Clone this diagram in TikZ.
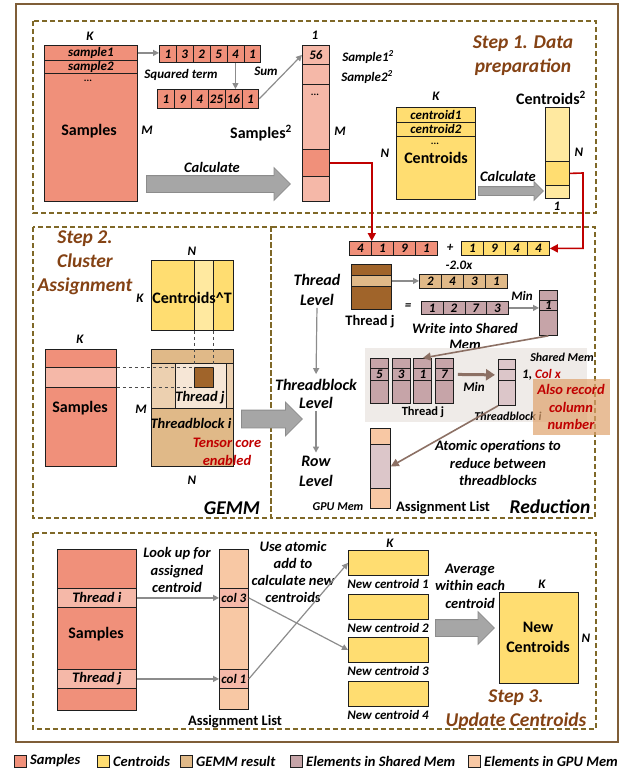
\documentclass[tikz,border=0pt]{standalone}
\usepackage{fontspec}
\setmainfont{Carlito}
\usetikzlibrary{arrows.meta, shapes.arrows, positioning}

\definecolor{smp}{RGB}{240,144,122}
\definecolor{smplt}{RGB}{245,184,168}
\definecolor{cen}{RGB}{255,221,113}
\definecolor{cenlt}{RGB}{255,233,160}
\definecolor{gem}{RGB}{224,185,136}
\definecolor{gemlt}{RGB}{236,208,176}
\definecolor{gemxl}{RGB}{246,230,214}
\definecolor{dkbr}{RGB}{160,100,42}
\definecolor{shm}{RGB}{198,164,168}
\definecolor{shmlt}{RGB}{220,198,201}
\definecolor{gpu}{RGB}{248,200,164}
\definecolor{dashcol}{RGB}{127,104,40}
\definecolor{framecol}{RGB}{127,94,56}
\definecolor{ttlcol}{RGB}{132,66,20}
\definecolor{arrgray}{RGB}{140,140,140}
\definecolor{arrfill}{RGB}{166,166,166}
\definecolor{brarr}{RGB}{140,112,100}
\definecolor{redln}{RGB}{192,0,0}
\definecolor{panel}{RGB}{239,235,232}
\definecolor{note}{RGB}{222,162,108}
\definecolor{edge}{RGB}{30,30,30}

\begin{document}
\begin{tikzpicture}[x=1pt, y=-1pt,
    bx/.style={draw=edge, line width=0.8pt, inner sep=0pt, anchor=north west},
    lbl/.style={font=\bfseries\itshape\fontsize{13}{15}\selectfont, inner sep=0pt},
    dotlbl/.style={font=\bfseries\fontsize{10}{10}\selectfont, inner sep=0pt},
    mlbl/.style={font=\bfseries\itshape\fontsize{14.5}{17.5}\selectfont, inner sep=0pt, align=center},
    blbl/.style={font=\bfseries\fontsize{16}{20}\selectfont, inner sep=0pt, align=center},
    ulbl/.style={font=\bfseries\fontsize{14.5}{17}\selectfont, inner sep=0pt},
    ttl/.style={font=\bfseries\itshape\fontsize{19.5}{24}\selectfont, text=ttlcol, inner sep=0pt, align=center},
    stepbox/.style={draw=dashcol, line width=1.3pt, dash pattern=on 5pt off 3pt},
    garrow/.style={draw=arrgray, line width=1.2pt, -{Triangle[length=6pt, width=6pt]}},
    brarrow/.style={draw=brarr, line width=1.6pt, -{Triangle[length=8pt, width=8pt]}},
    redarrow/.style={draw=redln, line width=1.6pt, -{Triangle[length=8pt, width=8pt]}},
    guide/.style={draw=edge!80, line width=0.7pt, dashed},
    fatarrow/.style={single arrow, draw=arrgray, fill=arrfill, line width=0.8pt, inner xsep=0pt, anchor=tail}]

    \useasboundingbox (0,0) rectangle (633,769);

    % Draw the outer frame and the step boxes
    \draw[framecol, line width=1.6pt] (16,4) rectangle (618,742);
    \draw[stepbox] (33,21) rectangle (596,213);
    \draw[stepbox] (33,227) rectangle (271,518);
    \draw[stepbox] (271,227) rectangle (595,518);
    \draw[stepbox] (33,533) rectangle (596,729);

    % Step 1: samples and squared terms
    \node[lbl] (kA) at (90,36) {K};
    \node[bx, fill=smp, minimum width=93pt, minimum height=156pt] (smpA) at (44,45) {};
    \node[bx, lbl, fill=smp, minimum width=93pt, minimum height=15pt] (s1) at (44,45) {sample1};
    \node[bx, lbl, fill=smp, minimum width=93pt, minimum height=13pt] (s2) at (44,60) {sample2};
    \node[dotlbl] (dotsA) at (88,81) {...};
    \node[blbl] (smpAt) at (89,131) {Samples};
    \node[lbl] (mA) at (147,130) {M};
    \foreach \v [count=\i] in {1,3,2,5,4,1}
        \node[bx, lbl, fill=smp, minimum width=16.9pt, minimum height=17pt] (sqa\i) at ({159+(\i-1)*16.9},45) {\v};
    \foreach \v [count=\i] in {1,9,4,25,16,1}
        \node[bx, lbl, fill=smp, minimum width=16.9pt, minimum height=19pt] (sqb\i) at ({157+(\i-1)*16.9},89) {\v};
    \node[lbl] (sqt) at (181,75) {Squared term};
    \node[lbl] (sumt) at (266,71) {Sum};

    % Samples^2 column
    \node[lbl] (oneA) at (315,35) {1};
    \node[bx, lbl, fill=smplt, minimum width=27pt, minimum height=19pt] (sq1) at (302,45) {56};
    \node[bx, fill=smplt, minimum width=27pt, minimum height=20pt] (sq2) at (302,64) {};
    \node[bx, fill=smplt, minimum width=27pt, minimum height=65pt] (sq3) at (302,84) {};
    \node[bx, fill=smp, minimum width=27pt, minimum height=27pt] (sq4) at (302,149) {};
    \node[bx, fill=smplt, minimum width=27pt, minimum height=25pt] (sq5) at (302,176) {};
    \node[dotlbl] (dotsB) at (315,95) {...};
    \node[blbl] (sqlbl) at (261,133) {Samples\textsuperscript{2}};
    \node[lbl] (s1sq) at (368,57) {Sample1\textsuperscript{2}};
    \node[lbl] (s2sq) at (367,77) {Sample2\textsuperscript{2}};
    \node[lbl] (mB) at (340,131) {M};

    \draw[garrow] (s1.east) -- (s1.east -| sqa1.west);
    \draw[garrow] (sqa5.south) -- (sqa5.south |- sqb5.north);
    \draw[garrow] (sqb6.east) -- (sq1.west);

    \node[fatarrow, minimum height=144pt, inner ysep=8pt, single arrow head extend=8pt] (calcA) at (146,184) {};
    \node[mlbl] (calcAt) at (212,167) {Calculate};

    % Step 1: centroids
    \node[lbl] (kB) at (436,96) {K};
    \node[bx, fill=cen, minimum width=79pt, minimum height=92pt] (cenA) at (396,107) {};
    \node[bx, lbl, fill=cen, minimum width=79pt, minimum height=15pt] (c1) at (396,107) {centroid1};
    \node[bx, lbl, fill=cen, minimum width=79pt, minimum height=14pt] (c2) at (396,122) {centroid2};
    \node[dotlbl] (dotsC) at (435,144) {...};
    \node[blbl] (cenAt) at (436,158) {Centroids};
    \node[lbl] (nA) at (385,153) {N};
    \node[fatarrow, minimum height=65pt, inner ysep=4pt, single arrow head extend=5pt] (calcB) at (478,191) {};
    \node[mlbl] (calcBt) at (508,176) {Calculate};
    \node[blbl] (cqlbl) at (551,98) {Centroids\textsuperscript{2}};
    \node[bx, fill=cenlt, minimum width=24pt, minimum height=54pt] (cq1) at (545,107) {};
    \node[bx, fill=cen, minimum width=24pt, minimum height=24pt] (cq2) at (545,161) {};
    \node[bx, fill=cenlt, minimum width=24pt, minimum height=13pt] (cq3) at (545,185) {};
    \node[lbl] (nB) at (579,152) {N};
    \node[lbl] (oneB) at (557,206) {1};
    \node[ttl] (st1) at (523,56) {Step 1. Data\\preparation};

    % Step 2: GEMM
    \node[ttl] (st2) at (85,263) {Step 2.\\Cluster\\Assignment};
    \node[lbl] (nC) at (192,251) {N};
    \node[lbl] (kC) at (140,298) {K};
    \node[bx, fill=cen, minimum width=82pt, minimum height=70pt] (cenT) at (151,260) {};
    \node[bx, fill=cenlt, minimum width=19pt, minimum height=70pt] (cenTs) at (194,260) {};
    \node[blbl] (cenTt) at (192,298) {Centroids\textasciicircum T};
    \node[lbl] (kD) at (80,339) {K};
    \node[bx, fill=smp, minimum width=71pt, minimum height=117pt] (smpB) at (45,349) {};
    \node[bx, fill=smplt, minimum width=71pt, minimum height=20pt] (smpBs) at (45,367) {};
    \node[blbl] (smpBt) at (80,408) {Samples};
    \node[bx, fill=gem, minimum width=82pt, minimum height=117pt] (gemR) at (151,349) {};
    \node[bx, fill=gemlt, minimum width=82pt, minimum height=45pt] (tbRow) at (151,363) {};
    \node[bx, fill=gemxl, minimum width=51pt, minimum height=45pt] (thj) at (175,363) {};
    \node[bx, fill=dkbr, minimum width=19pt, minimum height=20pt] (thjd) at (194,367) {};
    \draw[guide] (smpBs.north east) -- (thjd.north west);
    \draw[guide] (smpBs.south east) -- (thjd.south west);
    \draw[guide] (cenTs.south west) -- (thjd.north west);
    \draw[guide] (cenTs.south east) -- (thjd.north east);
    \node[mlbl] (thjt) at (200,398) {Thread j};
    \node[lbl] (mC) at (141,409) {M};
    \node[mlbl] (tbit) at (191,423) {Threadblock i};
    \node[mlbl, text=redln] (tct) at (227,452) {Tensor core\\enabled};
    \node[lbl] (nD) at (192,480) {N};
    \node[ttl, text=black] (gemt) at (232,508) {GEMM};
    \node[fatarrow, minimum height=61pt, inner ysep=8.5pt, single arrow head extend=8pt] (gemarr) at (241,419) {};

    % Step 2: reduction, thread level
    \foreach \v [count=\i] in {4,1,9,1}
        \node[bx, lbl, fill=smp, minimum width=22pt, minimum height=14pt] (rv\i) at ({349+(\i-1)*22},241) {\v};
    \node[lbl] (plus) at (450,248) {+};
    \foreach \v [count=\i] in {1,9,4,4}
        \node[bx, lbl, fill=cen, minimum width=22pt, minimum height=14pt] (yv\i) at ({461+(\i-1)*22},241) {\v};
    \node[lbl] (mtwo) at (459,265) {-2.0x};
    \node[bx, fill=dkbr, minimum width=40pt, minimum height=45pt] (tjblk) at (351,264) {};
    \node[bx, fill=gem, minimum width=40pt, minimum height=11pt] (tjs) at (351,275) {};
    \node[ulbl] (tjt) at (370,322) {Thread j};
    \foreach \v [count=\i] in {2,4,3,1}
        \node[bx, lbl, fill=gem, minimum width=22pt, minimum height=14pt] (tv\i) at ({419+(\i-1)*22},274) {\v};
    \node[lbl] (eq) at (408,307) {=};
    \foreach \v [count=\i] in {1,2,7,3}
        \node[bx, lbl, fill=shm, minimum width=21.75pt, minimum height=13pt] (mv\i) at ({421+(\i-1)*21.75},301) {\v};
    \node[lbl] (mint) at (522,296) {Min};
    \node[bx, fill=shm, minimum width=18pt, minimum height=45pt] (smc) at (539,290) {};
    \node[bx, lbl, fill=shm, minimum width=18pt, minimum height=10pt] (smc1) at (539,300) {1};
    \node[mlbl, font=\bfseries\itshape\fontsize{14.5}{16}\selectfont] (wsm) at (465,336) {Write into Shared\\Mem};
    \draw[garrow] (tjs.east) -- (tjs.east -| tv1.west);
    \draw[garrow] (mv4.east) -- (mv4.east -| smc.west);

    % Step 2: reduction, threadblock level
    \node[bx, draw=none, fill=panel, minimum width=222pt, minimum height=74pt] (pnl) at (365,348) {};
    \foreach \v [count=\i] in {5,3,1,7} {
        \node[bx, fill=shm, minimum width=18pt, minimum height=45pt] (tc\i) at ({370+(\i-1)*21.7},358) {};
        \node[bx, lbl, fill=shm, minimum width=18pt, minimum height=12pt] (tn\i) at ({370+(\i-1)*21.7},368) {\v};
    }
    \node[ulbl, font=\bfseries\fontsize{12.5}{14}\selectfont] (tjt2) at (423,412) {Thread j};
    \node[bx, fill=shmlt, minimum width=17pt, minimum height=46pt] (tbc) at (498,359) {};
    \node[bx, fill=shmlt, minimum width=17pt, minimum height=11pt] (tbc2) at (498,369) {};
    \draw[draw=brarr, line width=3pt, -{Triangle[length=9pt, width=11pt]}, shorten <=4pt, shorten >=3pt] (tn4.east) -- (tbc2.west);
    \node[lbl] (min2) at (474,387) {Min};
    \node[lbl, anchor=west] (colx) at (522,375) {1, \textcolor{redln}{Col x}};
    \node[lbl, font=\bfseries\itshape\fontsize{12}{14}\selectfont] (shmt) at (562,357) {Shared Mem};
    \node[lbl, font=\bfseries\itshape\fontsize{12}{14}\selectfont] (tbit2) at (508,416) {Threadblock i};
    \node[bx, draw=none, fill=note, fill opacity=0.7, minimum width=77pt, minimum height=56pt] (notebx) at (533,379) {};
    \node[mlbl, text=redln] (notet) at (571,407) {Also record\\column\\number};
    \draw[brarrow] (smc.south) -- (tc3.north);

    % Step 2: reduction, row level
    \node[mlbl, font=\bfseries\itshape\fontsize{16}{20}\selectfont] (tlev) at (317,290) {Thread\\Level};
    \node[mlbl, font=\bfseries\itshape\fontsize{16}{18}\selectfont] (tblev) at (316,394) {Threadblock\\Level};
    \node[mlbl, font=\bfseries\itshape\fontsize{16}{20}\selectfont] (rlev) at (316,471) {Row\\Level};
    \draw[garrow, shorten <=2pt, shorten >=5pt] (tlev.south) -- (tblev.north);
    \draw[garrow, shorten <=2pt, shorten >=3pt] (tblev.south) -- (rlev.north);
    \node[bx, fill=gpu, minimum width=20pt, minimum height=80pt] (al) at (370,428) {};
    \node[bx, fill=shmlt, minimum width=20pt, minimum height=44pt] (al2) at (370,444) {};
    \node[lbl, font=\bfseries\itshape\fontsize{12}{14}\selectfont] (gput) at (338,507) {GPU Mem};
    \node[ulbl] (alt) at (443,508) {Assignment List};
    \node[mlbl] (atomt) at (498,463) {Atomic operations to\\reduce between\\threadblocks};
    \node[ttl, text=black] (redt) at (550,507) {Reduction};
    \draw[brarrow] (tbc.south west) -- (al2.east);

    % Red links from step 1
    \coordinate (rturn) at (583,173);
    \draw[redarrow] (sq4.east) -| (rv1.north east);
    \draw[redarrow] (cq2.east) -- (rturn) |- (yv4.east);

    % Step 3: update centroids
    \node[bx, fill=smp, minimum width=79pt, minimum height=161pt] (smpC) at (57,549) {};
    \node[bx, mlbl, fill=smplt, minimum width=79pt, minimum height=19pt] (thi) at (57,588) {Thread i};
    \node[bx, mlbl, fill=smplt, minimum width=79pt, minimum height=19pt] (thjC) at (57,669) {Thread j};
    \node[blbl] (smpCt) at (96,634) {Samples};
    \node[bx, fill=gpu, minimum width=29pt, minimum height=160pt] (alC) at (219,549) {};
    \node[bx, lbl, fill=smplt, minimum width=29pt, minimum height=19pt] (col3) at (219,588) {col 3};
    \node[bx, lbl, fill=smplt, minimum width=29pt, minimum height=19pt] (col1) at (219,669) {col 1};
    \draw[garrow] (thi.east) -- (col3.west);
    \draw[garrow] (thjC.east) -- (col1.west);
    \node[mlbl] (lookt) at (177,570) {Look up for\\assigned\\centroid};
    \node[mlbl, font=\bfseries\itshape\fontsize{14.5}{17.3}\selectfont] (uset) at (293,572) {Use atomic\\add to\\calculate new\\centroids};
    \node[ulbl] (altC) at (235,722) {Assignment List};
    \node[lbl] (kE) at (390,543) {K};
    \foreach \y [count=\i] in {550,594,637,681} {
        \node[bx, fill=cen, minimum width=80pt, minimum height=25pt] (nc\i) at (348,\y) {};
        \node[lbl] (nct\i) at (388,\y+34) {New centroid \i};
    }
    \draw[garrow] (col3.east) -- (nc3.west);
    \draw[garrow] (col1.east) -- (nc1.west);
    \node[mlbl] (avgt) at (470,586) {Average\\within each\\centroid};
    \node[fatarrow, minimum height=59pt, inner ysep=8pt, single arrow head extend=8pt] (avgarr) at (435,628) {};
    \node[lbl] (kF) at (542,584) {K};
    \node[bx, fill=cen, minimum width=79pt, minimum height=91pt] (ncen) at (499,592) {};
    \node[blbl] (ncent) at (538,637) {New\\Centroids};
    \node[lbl] (nE) at (586,638) {N};
    \node[ttl] (st3) at (516,710) {Step 3.\\Update Centroids};

    % Legend
    \foreach \c/\t/\x in {smp/Samples/14, cen/Centroids/97, gem/GEMM result/180, shm/Elements in Shared Mem/290, gpu/Elements in GPU Mem/468} {
        \node[bx, fill=\c, minimum width=12pt, minimum height=12pt] (lg\c) at (\x,755) {};
        \node[lbl, font=\bfseries\itshape\fontsize{14.5}{16}\selectfont, anchor=west] (lt\c) at (\x+16,761) {\t};
    }
\end{tikzpicture}
\end{document}
